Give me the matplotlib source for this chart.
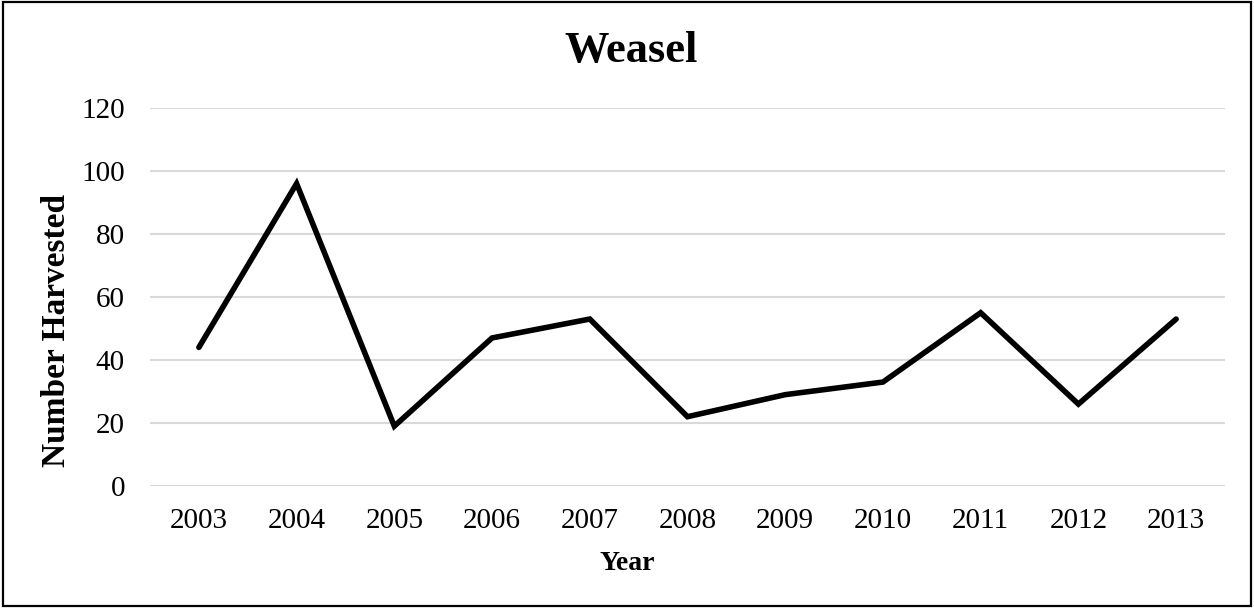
import matplotlib
matplotlib.use("Agg")
import matplotlib.pyplot as plt
from matplotlib.patches import Rectangle

# Weasel harvest numbers by year
years = ["2003", "2004", "2005", "2006", "2007", "2008", "2009", "2010", "2011", "2012", "2013"]
harvested = [44, 96, 19, 47, 53, 22, 29, 33, 55, 26, 53]
y_ticks = [0, 20, 40, 60, 80, 100, 120]

plt.rcParams['font.family'] = ['Liberation Serif', 'DejaVu Serif']

fig = plt.figure(figsize=(12.54, 6.08), dpi=100)
ax = fig.add_axes([150 / 1254, 1 - 486 / 608, 1075 / 1254, 378 / 608])

x = range(len(years))
ax.plot(x, harvested, color="black", linewidth=4,
        solid_joinstyle="miter", solid_capstyle="round", zorder=3)

ax.set_xlim(-0.5, len(years) - 0.5)
ax.set_ylim(0, 120)
ax.set_xticks(list(x))
ax.set_xticklabels(years)
ax.set_yticks(y_ticks)
ax.tick_params(axis="x", length=0, pad=16, labelsize=21)
ax.tick_params(axis="y", length=0, pad=18, labelsize=21)

ax.grid(axis="y", color="#d9d9d9", linewidth=1.5, zorder=0)
ax.set_axisbelow(True)
for s in ax.spines.values():
    s.set_visible(False)

fig.text(0.503, 1 - 51 / 608, "Weasel", ha="center", va="center",
         fontsize=32, fontweight="bold")
fig.text(0.5, 1 - 563 / 608, "Year", ha="center", va="center",
         fontsize=20, fontweight="bold")
fig.text(57 / 1254, 1 - 330 / 608, "Number Harvested", ha="center", va="center",
         rotation=90, fontsize=24, fontweight="bold")

# outer border of the chart
fig.patches.append(Rectangle((0.002, 0.003), 0.996, 0.994, transform=fig.transFigure,
                             fill=False, edgecolor="black", linewidth=1.6))

fig.savefig("out.png", dpi=100)
